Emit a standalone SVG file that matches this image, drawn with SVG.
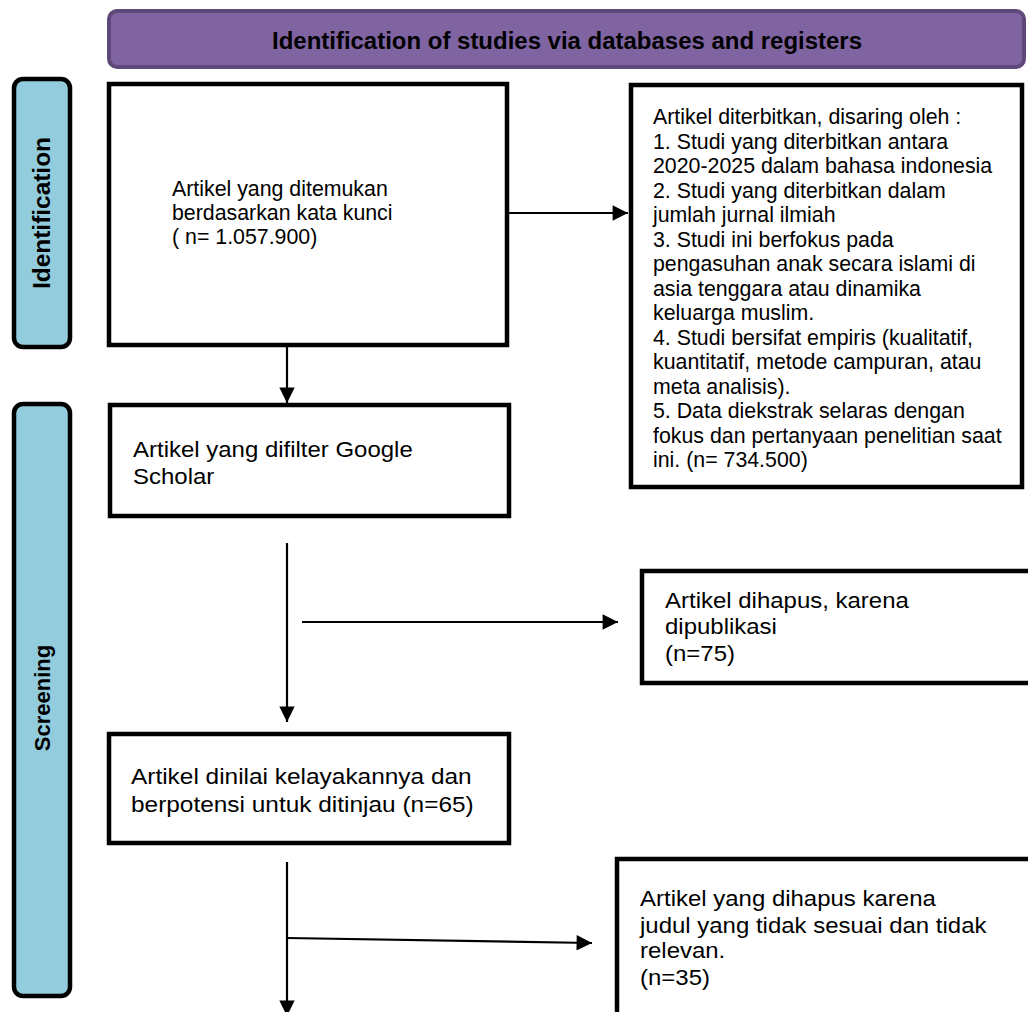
<svg xmlns="http://www.w3.org/2000/svg" width="1028" height="1012" viewBox="0 0 1028 1012">
<defs>
<style>
.box{fill:#fff;stroke:#000;stroke-width:4.5}
.side{fill:#93CDDD;stroke:#000;stroke-width:4.5}
.t{font-family:"Liberation Sans",Arial,sans-serif;font-size:21.33px;fill:#000}
.t2{font-family:"Liberation Sans",Arial,sans-serif;font-size:22px;fill:#000}
.lab{font-family:"Liberation Sans",Arial,sans-serif;font-weight:bold;fill:#000}
.c{stroke:#000;stroke-width:2.2;fill:none}
</style>
<marker id="ah" viewBox="0 0 10 10" refX="10" refY="5" markerWidth="7.5" markerHeight="7" markerUnits="strokeWidth" orient="auto">
<path d="M0,0 L10,5 L0,10 Z" fill="#000"/>
</marker>
</defs>
<rect width="1028" height="1012" fill="#fff"/>
<g id="header">
<rect x="109" y="11" width="915" height="56" rx="8" fill="#8064A2" stroke="#5F497A" stroke-width="4"/>
<text class="lab" x="567" y="49" font-size="23" text-anchor="middle" textLength="590" lengthAdjust="spacingAndGlyphs">Identification of studies via databases and registers</text>
</g>
<g id="identification-label">
<rect class="side" x="14" y="79" width="56" height="268" rx="9"/>
<text class="lab" font-size="23" text-anchor="middle" transform="translate(50,213) rotate(-90)" textLength="152" lengthAdjust="spacingAndGlyphs">Identification</text>
</g>
<g id="screening-label">
<rect class="side" x="14" y="404" width="56" height="592" rx="9"/>
<text class="lab" font-size="22" text-anchor="middle" transform="translate(50,698) rotate(-90)">Screening</text>
</g>
<g id="box-found">
<rect class="box" x="109" y="84" width="398" height="261"/>
<text class="t" x="172" y="196">Artikel yang ditemukan</text>
<text class="t" x="172" y="220">berdasarkan kata kunci</text>
<text class="t" x="172" y="244">( n= 1.057.900)</text>
</g>
<g id="box-excluded-criteria">
<rect class="box" x="631" y="85" width="391" height="402"/>
<text class="t" x="653" y="124">Artikel diterbitkan, disaring oleh :</text>
<text class="t" x="653" y="148.5">1. Studi yang diterbitkan antara</text>
<text class="t" x="653" y="173">2020-2025 dalam bahasa indonesia</text>
<text class="t" x="653" y="197.5">2. Studi yang diterbitkan dalam</text>
<text class="t" x="653" y="222">jumlah jurnal ilmiah</text>
<text class="t" x="653" y="246.5">3. Studi ini berfokus pada</text>
<text class="t" x="653" y="271">pengasuhan anak secara islami di</text>
<text class="t" x="653" y="295.5">asia tenggara atau dinamika</text>
<text class="t" x="653" y="320">keluarga muslim.</text>
<text class="t" x="653" y="344.5">4. Studi bersifat empiris (kualitatif,</text>
<text class="t" x="653" y="369">kuantitatif, metode campuran, atau</text>
<text class="t" x="653" y="393.5">meta analisis).</text>
<text class="t" x="653" y="418">5. Data diekstrak selaras dengan</text>
<text class="t" x="653" y="442.5">fokus dan pertanyaan penelitian saat</text>
<text class="t" x="653" y="467">ini. (n= 734.500)</text>
</g>
<g id="box-google">
<rect class="box" x="110" y="405" width="399" height="111"/>
<g transform="translate(133,0) scale(1.09,1)">
<text class="t2" x="0" y="457">Artikel yang difilter Google</text>
<text class="t2" x="0" y="484">Scholar</text>
</g>
</g>
<g id="box-removed-published">
<rect class="box" x="642" y="571" width="400" height="112"/>
<g transform="translate(665,0) scale(1.09,1)">
<text class="t2" x="0" y="608">Artikel dihapus, karena</text>
<text class="t2" x="0" y="634">dipublikasi</text>
<text class="t2" x="0" y="661">(n=75)</text>
</g>
</g>
<g id="box-eligible">
<rect class="box" x="109" y="734" width="400" height="109"/>
<g transform="translate(131,0) scale(1.11,1)">
<text class="t2" x="0" y="784">Artikel dinilai kelayakannya dan</text>
<text class="t2" x="0" y="812">berpotensi untuk ditinjau (n=65)</text>
</g>
</g>
<g id="box-removed-title">
<rect class="box" x="617" y="859" width="425" height="170"/>
<g transform="translate(640,0) scale(1.09,1)">
<text class="t2" x="0" y="906">Artikel yang dihapus karena</text>
<text class="t2" x="0" y="933">judul yang tidak sesuai dan tidak</text>
<text class="t2" x="0" y="958">relevan.</text>
<text class="t2" x="0" y="985">(n=35)</text>
</g>
</g>
<g id="connectors">
<line class="c" x1="508" y1="213" x2="628" y2="213" marker-end="url(#ah)"/>
<line class="c" x1="287" y1="346" x2="287" y2="403" marker-end="url(#ah)"/>
<line class="c" x1="287" y1="543" x2="287" y2="722" marker-end="url(#ah)"/>
<line class="c" x1="302" y1="622" x2="618" y2="622" marker-end="url(#ah)"/>
<line class="c" x1="287" y1="862" x2="287" y2="1016" marker-end="url(#ah)"/>
<line class="c" x1="287" y1="938" x2="592" y2="943" marker-end="url(#ah)"/>
</g>
</svg>
